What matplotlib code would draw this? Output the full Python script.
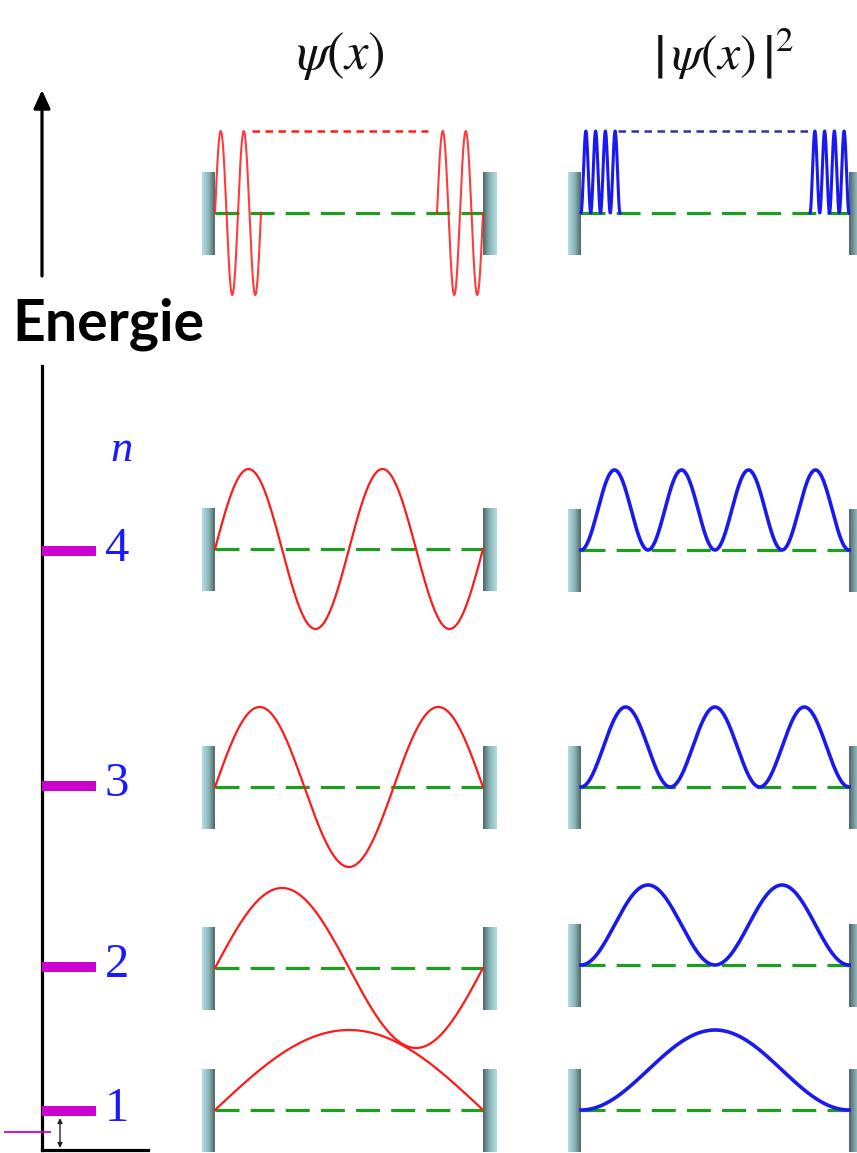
import numpy as np
import matplotlib.pyplot as plt
from matplotlib.colors import LinearSegmentedColormap

# quantum numbers and where each row sits on the page (pixels, y grows downward)
levels = [1, 2, 3, 4]
level_y = [1111, 967, 786, 551]
psi_base = [1110, 968, 787, 549]
prob_base = [1110, 965, 787, 550]
high_base = 213          # row for a very large n
amp = 80                 # amplitude of the drawn waves (px)

psi_x = (215, 483)       # box of the psi(x) column
prob_x = (581, 849)      # box of the |psi(x)|^2 column

W, H = 857, 1153
fig = plt.figure(figsize=(W / 100, H / 100), dpi=100)
ax = fig.add_axes([0, 0, 1, 1])

wall_cmap = LinearSegmentedColormap.from_list('wall', ['#b4dde1', '#8fb8bb', '#4e6868'])
grad = np.linspace(0, 1, 30).reshape(1, -1)


def wall(x0, x1, yb, flip=False):
    g = grad[:, ::-1] if flip else grad
    ax.imshow(g, cmap=wall_cmap, extent=(x0, x1, yb + 42, yb - 41), aspect='auto',
              interpolation='bilinear', zorder=1)


def box(xr, yb):
    wall(xr[0] - 13, xr[0], yb)
    wall(xr[1], xr[1] + 14, yb, flip=True)
    ax.plot(xr, [yb, yb], color='#1e9e1e', lw=2.3, ls=(0, (7.5, 3.5)), zorder=2)


# wave functions for n = 1..4
for n, yb in zip(levels, psi_base):
    box(psi_x, yb)
    x = np.linspace(psi_x[0], psi_x[1], 400)
    L = psi_x[1] - psi_x[0]
    ax.plot(x, yb - amp * np.sin(n * np.pi * (x - psi_x[0]) / L),
            color='#ff1a1a', lw=1.6, zorder=3)

for n, yb in zip(levels, prob_base):
    box(prob_x, yb)
    x = np.linspace(prob_x[0], prob_x[1], 400)
    L = prob_x[1] - prob_x[0]
    ax.plot(x, yb - amp * np.sin(n * np.pi * (x - prob_x[0]) / L) ** 2,
            color='#1a1aee', lw=2.6, zorder=3)

# very large n: only the ends are drawn
box(psi_x, high_base)
period = 23
for xs in (psi_x[0], psi_x[1] - 2 * period):
    x = np.linspace(xs, xs + 2 * period, 200)
    ax.plot(x, high_base - 82 * np.sin(2 * np.pi * (x - xs) / period),
            color='#ff1a1a', lw=1.5, alpha=0.85, zorder=3)
ax.plot([252, 428], [131, 131], color='#ff1a1a', lw=1.8, ls=(0, (3, 2.2)), zorder=3)

box(prob_x, high_base)
period2 = 9.75
for xs in (prob_x[0], prob_x[1] - 4 * period2):
    x = np.linspace(xs, xs + 4 * period2, 300)
    ax.plot(x, high_base - 82 * np.sin(np.pi * (x - xs) / period2) ** 2,
            color='#1a1aee', lw=2.2, zorder=3)
ax.plot([618, 812], [131, 131], color='#333399', lw=1.8, ls=(0, (3, 2.2)), zorder=3)

# column titles
plt.rcParams['mathtext.fontset'] = 'stix'
ax.text(340, 56, r'$\psi(x)$', fontsize=38, ha='center', va='center', color='#111111')
ax.text(724, 54, r'$\left|\,\psi(x)\,\right|^2$', fontsize=36, ha='center', va='center',
        color='#111111')

# energy axis
ax.plot([42, 42], [1150, 366], color='black', lw=2.3, zorder=4)
ax.plot([42, 148], [1150, 1150], color='black', lw=2.3, zorder=4)
ax.annotate('', xy=(42, 90), xytext=(42, 276),
            arrowprops=dict(arrowstyle='-|>,head_length=1.1,head_width=0.5',
                            color='black', lw=2.3, shrinkA=0, shrinkB=0))
ax.text(108, 324, 'Energie', fontfamily='Lato', fontweight='bold', fontsize=41,
        ha='center', va='center', color='black')

ax.barh(level_y, 54, left=42, height=10, color='#cc00cc', zorder=5)
for n, y in zip(levels, level_y):
    ax.text(105, y - 2, str(n), fontfamily='Liberation Serif', fontsize=35,
            color='#1a1aff', ha='left', va='center')
ax.text(110, 450, 'n', fontfamily='Liberation Serif', fontstyle='italic', fontsize=32,
        color='#1a1aff', ha='left', va='center')

# zero-point energy marker
ax.plot([5, 50], [1132, 1132], color='#cc00cc', lw=1.3, zorder=4)
ax.annotate('', xy=(60, 1118), xytext=(60, 1148),
            arrowprops=dict(arrowstyle='<|-|>', color='#222222', lw=1.0,
                            mutation_scale=7, shrinkA=0, shrinkB=0))

ax.set_xlim(0, W)
ax.set_ylim(H, 0)
ax.axis('off')
fig.savefig('out.png', dpi=100)
